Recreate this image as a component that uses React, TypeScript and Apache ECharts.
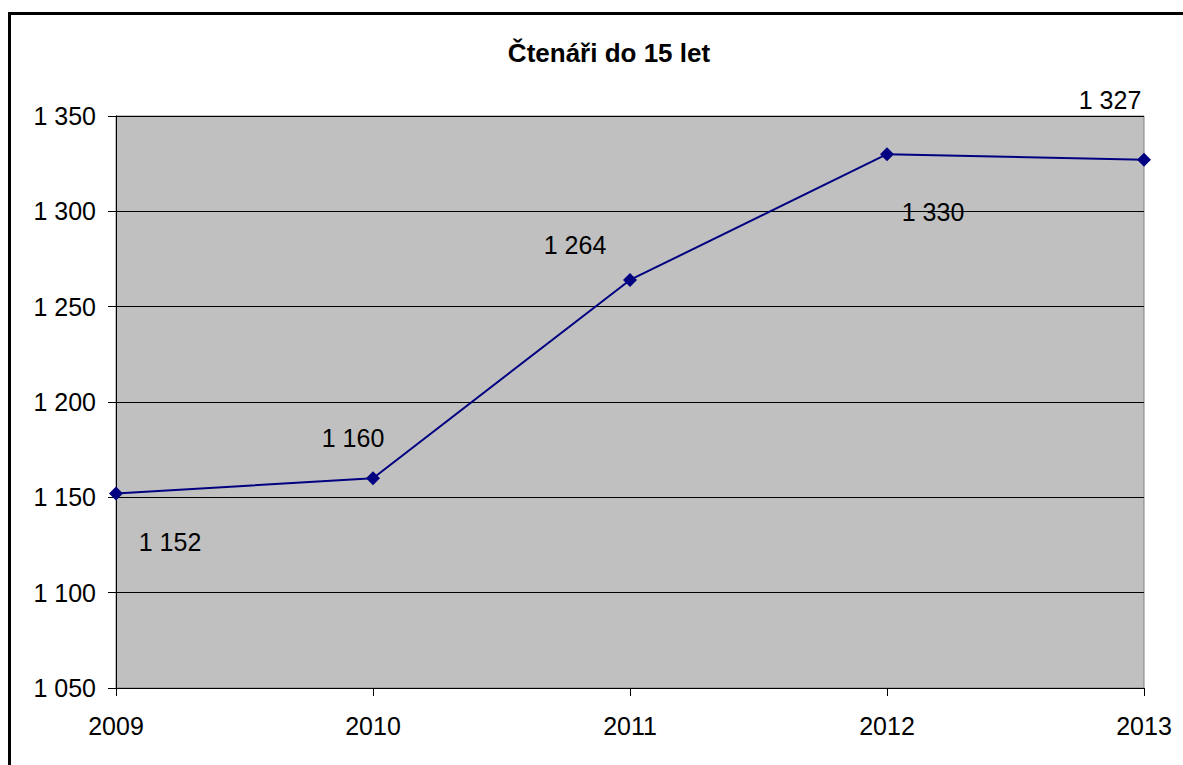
import React, { useEffect, useRef } from "react";
import * as echarts from "echarts";

const years = ["2009", "2010", "2011", "2012", "2013"];
const readers = [1152, 1160, 1264, 1330, 1327];
const labelOffsets: [number, number][] = [
  [54, 48],
  [-20, -40],
  [-55, -35],
  [46, 58],
  [-34, -60],
];

const FONT = "'Liberation Sans', Arial, sans-serif";

const fmt = (v: number) => {
  const s = String(Math.round(v));
  return s.replace(/\B(?=(\d{3})+(?!\d))/g, " ");
};

export default function App() {
  const ref = useRef<HTMLDivElement>(null);
  useEffect(() => {
    if (!ref.current) return;
    const chart = echarts.init(ref.current, null, { renderer: "svg" });
    chart.setOption({
      animation: false,
      backgroundColor: "#ffffff",
      textStyle: { fontFamily: FONT, color: "#000" },
      title: {
        text: "Čtenáři do 15 let",
        left: 604,
        top: 35,
        textAlign: "center",
        textStyle: { fontSize: 26, fontWeight: "bold", color: "#000", fontFamily: FONT },
      },
      graphic: [
        {
          type: "rect",
          shape: { x: 9.5, y: 13.5, width: 1300, height: 900 },
          style: { fill: "none", stroke: "#000", lineWidth: 3 },
          silent: true,
        },
      ],
      grid: {
        left: 116,
        right: 39,
        top: 116,
        bottom: 77,
        show: true,
        backgroundColor: "#C0C0C0",
        borderColor: "#808080",
        borderWidth: 1,
      },
      xAxis: {
        type: "category",
        data: years,
        boundaryGap: false,
        axisLine: { lineStyle: { color: "#000", width: 1 } },
        axisTick: { show: true, length: 8, inside: false, lineStyle: { color: "#000" } },
        axisLabel: { color: "#000", fontSize: 25, margin: 25, fontFamily: FONT },
        splitLine: { show: false },
      },
      yAxis: {
        type: "value",
        min: 1050,
        max: 1350,
        interval: 50,
        axisLine: { show: true, lineStyle: { color: "#000", width: 1 } },
        axisTick: { show: true, length: 8, lineStyle: { color: "#000" } },
        axisLabel: {
          color: "#000",
          fontSize: 25,
          margin: 20,
          formatter: (v: number) => fmt(v),
          fontFamily: FONT,
        },
        splitLine: { show: true, lineStyle: { color: "#000", width: 1 } },
      },
      series: [
        {
          type: "line",
          data: readers.map((v, i) => ({
            value: v,
            label: {
              show: true,
              position: "inside",
              offset: labelOffsets[i],
            },
          })),
          lineStyle: { color: "#000080", width: 2 },
          itemStyle: { color: "#000080" },
          symbol: "diamond",
          symbolSize: 14,
          label: {
            show: true,
            color: "#000",
            fontSize: 25,
            fontFamily: FONT,
            formatter: (p: any) => fmt(p.value),
          },
        },
      ],
    });
    return () => chart.dispose();
  }, []);
  return (
    <div
      ref={ref}
      style={{ position: "fixed", left: 0, top: 0, width: 1183, height: 765 }}
    />
  );
}
